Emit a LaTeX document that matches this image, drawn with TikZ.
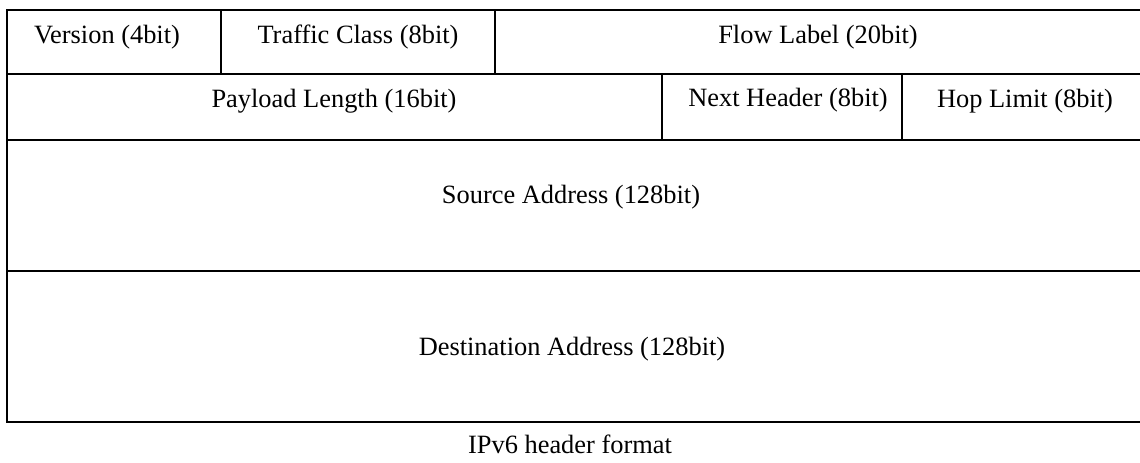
\documentclass[tikz,border=0pt]{standalone}
\usepackage{fontspec}
\setmainfont{Liberation Serif}
\begin{document}
\begin{tikzpicture}[x=0.5pt,y=-0.5pt,
  cell/.style={draw=black,line width=1.3pt},
  lbl/.style={anchor=base,inner sep=0pt,font=\fontsize{13.2}{15}\selectfont}]
\useasboundingbox (0,0) rectangle (1140,462);
% cells
\draw[cell] (7,10) rectangle (221,74);
\draw[cell] (221,10) rectangle (495,74);
\draw[cell] (495,10) rectangle (1146,74);
\draw[cell] (7,74) rectangle (662,140);
\draw[cell] (662,74) rectangle (902,140);
\draw[cell] (902,74) rectangle (1146,140);
\draw[cell] (7,140) rectangle (1146,271);
\draw[cell] (7,271) rectangle (1146,422);
% labels
\node[lbl] (ver) at (107,43) {Version (4bit)};
\node[lbl] (tc) at (358,43) {Traffic Class (8bit)};
\node[lbl] (fl) at (818,43) {Flow Label (20bit)};
\node[lbl] (pl) at (334,107) {Payload Length (16bit)};
\node[lbl] (nh) at (788,106) {Next Header (8bit)};
\node[lbl] (hl) at (1025,107) {Hop Limit (8bit)};
\node[lbl] (src) at (571,203) {Source Address (128bit)};
\node[lbl] (dst) at (572,355) {Destination Address (128bit)};
\node[lbl] (cap) at (570,453) {IPv6 header format};
\end{tikzpicture}
\end{document}
